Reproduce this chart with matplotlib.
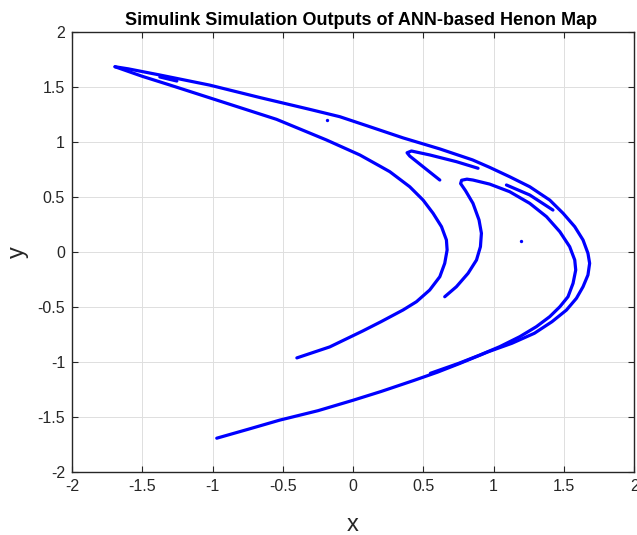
import numpy as np
import matplotlib
matplotlib.use("Agg")
import matplotlib.pyplot as plt
from matplotlib.ticker import FormatStrFormatter, MultipleLocator

plt.rcParams['font.family'] = ['Liberation Sans', 'DejaVu Sans']
plt.rcParams['axes.unicode_minus'] = False

# outer boomerang: lower-left tip -> right nose -> upper-left tip
outer_x = [-0.97, -0.75, -0.52, -0.25, 0.0, 0.2, 0.43, 0.60, 0.76, 0.96, 1.13,
           1.29, 1.415, 1.518, 1.589, 1.636, 1.671, 1.683, 1.671, 1.636, 1.577,
           1.494, 1.399, 1.257, 1.114, 0.972, 0.85, 0.617, 0.356, 0.1, -0.095,
           -0.31, -0.66, -1.02, -1.375, -1.60, -1.694]
outer_y = [-1.69, -1.61, -1.525, -1.44, -1.345, -1.265, -1.166, -1.09, -1.01,
           -0.905, -0.827, -0.736, -0.631, -0.525, -0.418, -0.313, -0.206, -0.10,
           -0.009, 0.112, 0.233, 0.355, 0.475, 0.596, 0.687, 0.772, 0.84, 0.94,
           1.04, 1.15, 1.233, 1.30, 1.406, 1.52, 1.612, 1.668, 1.687]

# inner fold: upper-left tip -> C shape -> lower end
inner_x = [-1.694, -1.5, -1.304, -0.90, -0.545, -0.189, 0.048, 0.19, 0.261, 0.403,
           0.498, 0.569, 0.629, 0.664, 0.669, 0.652, 0.617, 0.545, 0.451, 0.356,
           0.2, 0.069, -0.166, -0.40]
inner_y = [1.687, 1.60, 1.521, 1.355, 1.209, 1.021, 0.885, 0.784, 0.733, 0.596,
           0.475, 0.355, 0.233, 0.112, 0.021, -0.10, -0.222, -0.343, -0.449, -0.524,
           -0.63, -0.715, -0.86, -0.96]

# middle S-shaped branch that joins the lower band
mid_x = [0.652, 0.735, 0.818, 0.878, 0.906, 0.913, 0.896, 0.853, 0.80, 0.765,
         0.772, 0.81, 0.853, 0.972, 1.114, 1.257, 1.376, 1.471, 1.541, 1.577,
         1.584, 1.565, 1.529, 1.471, 1.399, 1.304, 1.186, 1.043, 0.9, 0.75, 0.55]
mid_y = [-0.404, -0.313, -0.191, -0.07, 0.051, 0.173, 0.294, 0.445, 0.56, 0.625,
         0.655, 0.665, 0.657, 0.62, 0.551, 0.445, 0.324, 0.187, 0.051, -0.07,
         -0.161, -0.282, -0.404, -0.495, -0.585, -0.676, -0.767, -0.858, -0.935,
         -1.01, -1.10]

# small hook under the upper band
hook_x = [0.617, 0.498, 0.403, 0.384, 0.415, 0.546, 0.735, 0.889]
hook_y = [0.657, 0.778, 0.875, 0.905, 0.921, 0.885, 0.824, 0.764]

# short pieces and stray points
seg1_x = [1.091, 1.257, 1.422]
seg1_y = [0.612, 0.521, 0.384]
seg2_x = [-1.375, -1.254]
seg2_y = [1.594, 1.557]
dots_x = [1.193, -0.189]
dots_y = [0.103, 1.203]

fig = plt.figure(figsize=(6.37, 5.35), dpi=100)
ax = fig.add_axes([0.113, 0.1172, 0.8826, 0.8224])

c = (0, 0, 1)
kw = dict(color=c, lw=2.3, solid_capstyle='round', solid_joinstyle='round')
ax.plot(outer_x, outer_y, **kw)
ax.plot(inner_x, inner_y, **kw)
ax.plot(mid_x, mid_y, **kw)
ax.plot(hook_x, hook_y, **kw)
ax.plot(seg1_x, seg1_y, **kw)
ax.plot(seg2_x, seg2_y, **kw)
ax.plot(dots_x, dots_y, 'o', color=c, ms=2.4, mew=0)

ax.set_xlim(-2, 2)
ax.set_ylim(-2, 2)
ax.xaxis.set_major_locator(MultipleLocator(0.5))
ax.yaxis.set_major_locator(MultipleLocator(0.5))
ax.xaxis.set_major_formatter(FormatStrFormatter('%g'))
ax.yaxis.set_major_formatter(FormatStrFormatter('%g'))

ax.grid(True, color='#dedede', lw=0.7)
ax.set_axisbelow(True)
for s in ax.spines.values():
    s.set_color('#262626')
    s.set_linewidth(1.0)
ax.tick_params(direction='in', length=4, width=0.8, colors='#262626',
               labelsize=11.5, top=True, right=True, pad=5)

ax.set_title("Simulink Simulation Outputs of ANN-based Henon Map",
             fontsize=13, fontweight='bold', pad=5, x=0.514)
ax.set_xlabel("x", fontsize=17, color='#262626', labelpad=14)
ax.set_ylabel("y", fontsize=17, color='#262626', labelpad=6)

fig.savefig("out.png", dpi=100)
